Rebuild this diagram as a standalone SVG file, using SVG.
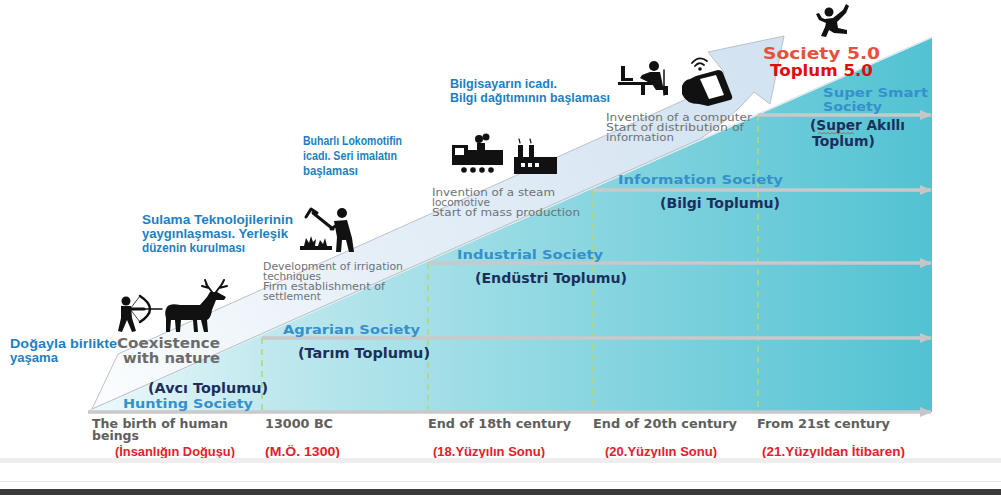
<svg xmlns="http://www.w3.org/2000/svg" width="1001" height="495" viewBox="0 0 1001 495">
  <defs>
    <linearGradient id="triFill" gradientUnits="userSpaceOnUse" x1="88" y1="0" x2="932" y2="0">
      <stop offset="0" stop-color="#eef9fb"/>
      <stop offset="0.22" stop-color="#bfe8ee"/>
      <stop offset="0.55" stop-color="#8fd8e2"/>
      <stop offset="1" stop-color="#52c2d2"/>
    </linearGradient>
    <linearGradient id="bandFill" gradientUnits="userSpaceOnUse" x1="95" y1="400" x2="780" y2="50">
      <stop offset="0" stop-color="#fbfdfe"/>
      <stop offset="0.4" stop-color="#e6eff7"/>
      <stop offset="1" stop-color="#d2e2f1"/>
    </linearGradient>
    <marker id="head" viewBox="0 0 12 10" refX="11" refY="5" markerWidth="12" markerHeight="10" markerUnits="userSpaceOnUse" orient="auto">
      <path d="M0,0 L12,5 L0,10 Z" fill="#c6c6c6"/>
    </marker>
    <style>
      .era { stroke: #c9c9c9; stroke-width: 3.5; fill: none; marker-end: url(#head); }
      .tick { stroke: #b2d67e; stroke-width: 1.6; stroke-dasharray: 6 5; fill: none; }
      text { lengthAdjust: spacingAndGlyphs; }
      .soc { font-family: "DejaVu Sans", Verdana, sans-serif; font-weight: 700; fill: #3590cc; font-size: 13px; }
      .tr { font-family: "DejaVu Sans", Verdana, sans-serif; font-weight: 700; fill: #1c2f5c; font-size: 13.5px; }
      .time { font-family: "DejaVu Sans", Verdana, sans-serif; font-weight: 700; fill: #5e5e5e; font-size: 11.5px; }
      .red { font-family: "Liberation Sans", Arial, sans-serif; font-weight: 700; fill: #e3202b; font-size: 12px; }
      .desc { font-family: "Liberation Sans", Arial, sans-serif; font-weight: 700; fill: #1e7fc0; font-size: 12px; }
      .small { font-family: "DejaVu Sans", Verdana, sans-serif; fill: #6c7278; font-size: 10px; }
      .coex { font-family: "DejaVu Sans", Verdana, sans-serif; font-weight: 700; fill: #6b6b6b; font-size: 14.5px; }
      .ico { fill: #111; }
      .icoS { stroke: #111; fill: none; stroke-linecap: round; stroke-linejoin: round; }
    </style>
  </defs>

  <rect width="1001" height="495" fill="#ffffff"/>

  <!-- rising triangle of eras -->
  <g id="stage">
    <polygon points="88,412 932,38 932,412" fill="url(#triFill)"/>
    <line x1="88" y1="411" x2="932" y2="37" stroke="#d7e3ea" stroke-width="1.2"/>
  </g>

  <!-- broad diagonal progress arrow -->
  <g id="progress-arrow">
    <path d="M92,409 L118,354 L700,93 Q716,86 724,72 L708,52 L784,36 L770,104 L754,92 Q730,120 700,139 Z" fill="url(#bandFill)" stroke="#b9c2ca" stroke-width="1"/>
  </g>

  <!-- era divisions and timeline arrows -->
  <g id="connectors">
    <line class="tick" x1="262" y1="338" x2="262" y2="410"/>
    <line class="tick" x1="428" y1="263" x2="428" y2="410"/>
    <line class="tick" x1="593" y1="190" x2="593" y2="410"/>
    <line class="tick" x1="758" y1="115" x2="758" y2="410"/>
    <line class="era" x1="88" y1="412" x2="931" y2="412"/>
    <line class="era" x1="262" y1="338" x2="931" y2="338"/>
    <line class="era" x1="428" y1="263" x2="931" y2="263"/>
    <line class="era" x1="593" y1="190" x2="931" y2="190"/>
    <line class="era" x1="758" y1="115" x2="931" y2="115"/>
  </g>

  <!-- Society 1.0 -->
  <g id="hunting">
    <text class="desc" x="10" y="348" textLength="107" lengthAdjust="spacingAndGlyphs">Doğayla  birlikte</text>
    <text class="desc" x="10" y="362" textLength="48" lengthAdjust="spacingAndGlyphs">yaşama</text>
    <text class="coex" x="117" y="348" textLength="103" lengthAdjust="spacingAndGlyphs">Coexistence</text>
    <text class="coex" x="123" y="363" textLength="97" lengthAdjust="spacingAndGlyphs">with nature</text>
    <text class="tr" x="148" y="393" textLength="120" lengthAdjust="spacingAndGlyphs">(Avcı Toplumu)</text>
    <text class="soc" x="123" y="408" textLength="130" lengthAdjust="spacingAndGlyphs">Hunting Society</text>
    <!-- archer -->
    <circle class="ico" cx="126" cy="301" r="4.5"/>
    <path class="ico" d="M121,306 L131,306 L132,318 L136,331 L132,332 L127,320 L122,332 L118,331 L121,318 Z"/>
    <path class="icoS" d="M128,309 L144,309" stroke-width="3"/>
    <path class="icoS" d="M140,296 Q160,309 140,322" stroke-width="2.5"/>
    <path class="icoS" d="M140,296 L130,309 L140,322" stroke-width="0.8"/>
    <path class="icoS" d="M130,309 L162,309" stroke-width="1.3"/>
    <!-- deer -->
    <path class="ico" d="M167,307 Q170,303 180,305 L200,305 L207,297 L210,292 L217,292 L226,297 L224,300 L216,300 L212,310 Q211,318 207,320 L208,332 L204,332 L201,320 L197,320 L198,332 L194,332 L193,320 L181,320 L180,332 L176,332 L175,320 L171,320 L170,332 L166,332 L166,318 Q164,312 167,307 Z"/>
    <path class="icoS" d="M212,292 L206,284 M209,288 L202,286 M207,285 L205,280 M216,292 L222,284 M219,288 L227,286 M222,284 L224,280" stroke-width="2"/>
  </g>

  <!-- Society 2.0 -->
  <g id="agrarian">
    <text class="desc" x="142" y="224" textLength="151" lengthAdjust="spacingAndGlyphs">Sulama Teknolojilerinin</text>
    <text class="desc" x="142" y="238" textLength="146" lengthAdjust="spacingAndGlyphs">yaygınlaşması. Yerleşik</text>
    <text class="desc" x="142" y="252" textLength="103" lengthAdjust="spacingAndGlyphs">düzenin kurulması</text>
    <text class="small" x="263" y="270" textLength="140" lengthAdjust="spacingAndGlyphs">Development of irrigation</text>
    <text class="small" x="263" y="280" textLength="58" lengthAdjust="spacingAndGlyphs">techniques</text>
    <text class="small" x="263" y="290" textLength="122" lengthAdjust="spacingAndGlyphs">Firm establishment of</text>
    <text class="small" x="263" y="300" textLength="58" lengthAdjust="spacingAndGlyphs">settlement</text>
    <text class="soc" x="283" y="334" textLength="137" lengthAdjust="spacingAndGlyphs">Agrarian Society</text>
    <text class="tr" x="298" y="358" textLength="132" lengthAdjust="spacingAndGlyphs">(Tarım Toplumu)</text>
    <!-- farmer -->
    <circle class="ico" cx="342" cy="213" r="5"/>
    <path class="ico" d="M334,221 L347,220 L352,238 L354,252 L349,252 L346,240 L342,240 L341,252 L336,252 L337,237 Z"/>
    <path class="icoS" d="M337,225 L331,229 M333,229 L313,213" stroke-width="3"/>
    <path class="icoS" d="M306,217 L311,209 L317,213" stroke-width="3"/>
    <path class="ico" d="M300,246 L332,246 L332,250 L300,250 Z"/>
    <path class="ico" d="M304,246 L306,238 L309,243 L311,236 L313,242 L316,239 L315,246 Z M318,246 L320,240 L323,244 L325,238 L327,246 Z"/>
  </g>

  <!-- Society 3.0 -->
  <g id="industrial">
    <text class="desc" x="303" y="145" textLength="99" lengthAdjust="spacingAndGlyphs">Buharlı Lokomotifin</text>
    <text class="desc" x="303" y="160" textLength="94" lengthAdjust="spacingAndGlyphs">icadı. Seri imalatın</text>
    <text class="desc" x="303" y="175" textLength="55" lengthAdjust="spacingAndGlyphs">başlaması</text>
    <text class="small" x="432" y="196" textLength="123" lengthAdjust="spacingAndGlyphs">Invention of a steam</text>
    <text class="small" x="432" y="206" textLength="58" lengthAdjust="spacingAndGlyphs">locomotive</text>
    <text class="small" x="432" y="216" textLength="148" lengthAdjust="spacingAndGlyphs">Start of mass production</text>
    <text class="soc" x="457" y="259" textLength="146" lengthAdjust="spacingAndGlyphs">Industrial Society</text>
    <text class="tr" x="475" y="283" textLength="152" lengthAdjust="spacingAndGlyphs">(Endüstri Toplumu)</text>
    <!-- steam locomotive -->
    <path class="ico" d="M452,145 L468,145 L468,150 L477,150 L477,143 L485,143 L485,150 L503,150 L503,165 L452,165 Z"/>
    <rect x="455" y="148" width="9" height="7" fill="#ffffff"/>
    <circle class="ico" cx="479" cy="139" r="4"/>
    <circle class="ico" cx="486" cy="137" r="3.5"/>
    <circle class="ico" cx="464" cy="170" r="2.8"/>
    <circle class="ico" cx="473" cy="170" r="2.8"/>
    <circle class="ico" cx="482" cy="170" r="2.8"/>
    <circle class="ico" cx="491" cy="170" r="2.8"/>
    <!-- factory -->
    <path class="ico" d="M514,157 L518,157 L518,145 L523,145 L523,157 L529,157 L529,145 L534,145 L534,157 L557,157 L557,174 L514,174 Z"/>
    <path class="icoS" d="M520,143 L519,139 M531,143 L530,139" stroke-width="1.2"/>
    <rect x="521" y="163" width="4" height="4" fill="#ffffff"/>
    <rect x="528" y="163" width="4" height="4" fill="#ffffff"/>
    <rect x="535" y="163" width="4" height="4" fill="#ffffff"/>
  </g>

  <!-- Society 4.0 -->
  <g id="information">
    <text class="desc" x="450" y="88" textLength="107" lengthAdjust="spacingAndGlyphs">Bilgisayarın icadı.</text>
    <text class="desc" x="450" y="102" textLength="160" lengthAdjust="spacingAndGlyphs">Bilgi dağıtımının başlaması</text>
    <text class="small" x="606" y="121" textLength="146" lengthAdjust="spacingAndGlyphs">Invention of a computer</text>
    <text class="small" x="606" y="131" textLength="138" lengthAdjust="spacingAndGlyphs">Start of distribution of</text>
    <text class="small" x="606" y="141" textLength="68" lengthAdjust="spacingAndGlyphs">information</text>
    <text class="soc" x="618" y="184" textLength="165" lengthAdjust="spacingAndGlyphs">Information Society</text>
    <text class="tr" x="660" y="208" textLength="120" lengthAdjust="spacingAndGlyphs">(Bilgi Toplumu)</text>
    <!-- person at computer -->
    <path class="ico" d="M621,66 L625,66 L625,78 L633,78 L633,81 L621,81 Z"/>
    <path class="ico" d="M618,82 L660,82 L660,85 L645,85 L645,95 L641,95 L641,85 L618,85 Z"/>
    <circle class="ico" cx="654" cy="66" r="5"/>
    <path class="ico" d="M650,72 L660,72 L663,86 L668,86 L668,95 L664,95 L663,90 L656,90 L652,84 L640,78 L642,75 Z"/>
    <path class="icoS" d="M664,70 L664,95" stroke-width="1.5"/>
    <!-- hand with phone -->
    <path class="icoS" d="M692,63 Q699,55 707,61 M695,66 Q699,61 704,65" stroke-width="1.8"/>
    <circle class="ico" cx="700" cy="69" r="1.8"/>
    <path class="ico" d="M696,76 L718,70 Q722,70 723,73 L732,96 Q733,99 730,100 L708,106 L699,104 Q686,104 682,94 L682,86 Q684,80 690,79 Z"/>
    <path d="M700,79 L716,75 L724,95 L709,99 Z" fill="#ffffff"/>
  </g>

  <!-- Society 5.0 -->
  <g id="super-smart">
    <circle class="ico" cx="829" cy="12" r="4.5"/>
    <path class="ico" d="M825,19 L833,18 L843,10 L846,4 L849,6 L846,13 L837,22 L838,28 L847,30 L847,34 L834,33 L829,30 L826,37 L821,36 L825,27 L826,23 L819,20 L816,14 L819,13 L822,18 Z"/>
    <text font-family="DejaVu Sans, Verdana, sans-serif" font-weight="700" font-size="16" fill="#e8503c" x="763" y="59" textLength="117" lengthAdjust="spacingAndGlyphs">Society 5.0</text>
    <text font-family="DejaVu Sans, Verdana, sans-serif" font-weight="700" font-size="15.5" fill="#e00d0d" x="770" y="76" textLength="103" lengthAdjust="spacingAndGlyphs">Toplum 5.0</text>
    <text class="soc" x="823" y="97" textLength="105" lengthAdjust="spacingAndGlyphs">Super Smart</text>
    <text class="soc" x="823" y="111" textLength="59" lengthAdjust="spacingAndGlyphs">Society</text>
    <text class="tr" x="810" y="130" textLength="95" lengthAdjust="spacingAndGlyphs">(Super Akıllı</text>
    <path d="M818,134 l2,-1.5 l2,1.5 l2,-1.5 l2,1.5 l2,-1.5 l2,1.5 l2,-1.5 l2,1.5 l2,-1.5 l2,1.5 l2,-1.5 l2,1.5 l2,-1.5 l2,1.5 l2,-1.5 l2,1.5 l2,-1.5 l2,1.5" fill="none" stroke="#e0403a" stroke-width="0.8"/>
    <text class="tr" x="812" y="146" textLength="63" lengthAdjust="spacingAndGlyphs">Toplum)</text>
  </g>

  <!-- timeline captions -->
  <g id="timeline">
    <text class="time" x="92" y="428" textLength="136" lengthAdjust="spacingAndGlyphs">The birth of human</text>
    <text class="time" x="92" y="440" textLength="47" lengthAdjust="spacingAndGlyphs">beings</text>
    <text class="time" x="265" y="428" textLength="68" lengthAdjust="spacingAndGlyphs">13000 BC</text>
    <text class="time" x="428" y="428" textLength="143" lengthAdjust="spacingAndGlyphs">End of 18th century</text>
    <text class="time" x="593" y="428" textLength="144" lengthAdjust="spacingAndGlyphs">End of 20th century</text>
    <text class="time" x="757" y="428" textLength="133" lengthAdjust="spacingAndGlyphs">From 21st century</text>
    <text class="red" x="115" y="456" textLength="120" lengthAdjust="spacingAndGlyphs">(İnsanlığın Doğuşu)</text>
    <text class="red" x="265" y="456" textLength="75" lengthAdjust="spacingAndGlyphs">(M.Ö. 1300)</text>
    <text class="red" x="433" y="456" textLength="112" lengthAdjust="spacingAndGlyphs">(18.Yüzyılın Sonu)</text>
    <text class="red" x="605" y="456" textLength="112" lengthAdjust="spacingAndGlyphs">(20.Yüzyılın Sonu)</text>
    <text class="red" x="762" y="456" textLength="143" lengthAdjust="spacingAndGlyphs">(21.Yüzyıldan İtibaren)</text>
  </g>

  <!-- page footer strips -->
  <g id="footer">
    <rect x="0" y="458" width="1001" height="5" fill="#eeeeee"/>
    <rect x="0" y="481" width="1001" height="1" fill="#e4e4e4"/>
    <rect x="0" y="489" width="1001" height="6" fill="#3a3a3a"/>
  </g>
</svg>
